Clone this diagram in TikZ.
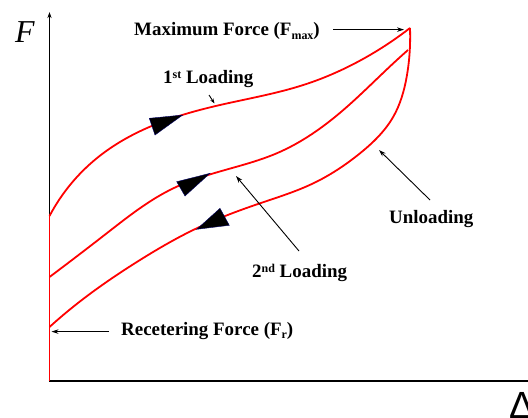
\documentclass[tikz,border=0pt]{standalone}
\usepackage{fontspec}
\setmainfont{Liberation Serif}
\newfontfamily\deltafont{Liberation Sans}
\usetikzlibrary{arrows.meta,hobby}

\newcommand{\supsmall}[1]{\raisebox{0.55ex}{\fontsize{12}{12}\selectfont #1}}
\newcommand{\subsmall}[1]{\raisebox{-0.45ex}{\fontsize{12}{12}\selectfont #1}}

\begin{document}
\begin{tikzpicture}[x=1bp,y=-1bp,
  lbl/.style={font=\fontsize{19}{22}\selectfont\bfseries, inner sep=0pt, anchor=base west},
  curve/.style={red, line width=1.8bp, line join=round, use Hobby shortcut},
  axis/.style={black, line width=1.6bp},
  pointer/.style={-{Stealth[length=7bp,width=4.5bp]}, line width=0.9bp},
  head/.style={fill=black, draw=black!60!blue, line width=0.4bp, line join=miter}]
\useasboundingbox (0,0) rectangle (528,417);

% axes
\coordinate (O) at (49.5,381);
\coordinate (Ytop) at (49.5,12);
\coordinate (Xend) at (540,381);
\draw[axis, -{Stealth[length=6bp,width=4bp]}] (O) -- (Ytop);
\draw[axis] (48.7,381) -- (Xend);
\node[inner sep=0pt, anchor=base west] (Flab) at (15,42) {\fontsize{32}{32}\selectfont\itshape F};
\node[inner sep=0pt, anchor=base west] (Dlab) at (509,418) {\fontsize{38}{38}\deltafont\selectfont Δ};

% key points of the hysteresis loop
\coordinate (Fmax) at (410,28);
\coordinate (A1) at (49.5,216);
\coordinate (A2) at (49.5,277);
\coordinate (Fr) at (49.5,327);
\coordinate (B2) at (408,50);

% vertical segment on the force axis
\draw[red, line width=1.8bp] (A1) -- (O);

% first loading
\draw[curve] (A1) .. (96.7,158.3) .. (150,126.7) .. (220,105)
  .. (303.3,85) .. (370,55) .. (Fmax);

% second loading
\draw[curve] (A2) .. (106.7,233.3) .. (173.3,188.3) .. (225,170)
  .. (276.7,153.3) .. (343.3,110) .. (393.3,63.3) .. (B2);

% unloading
\draw[curve] ([out angle=-88]Fmax) .. (406.7,76.7) .. (393.3,116.7)
  .. (360,153.3) .. (313.3,183.3) .. (260,203.3) .. (196.7,228.3)
  .. (140,260) .. (73.3,306.7) .. (Fr);

% direction markers
\fill[head] (149.3,118.3) -- (182.7,115) -- (155,135) -- cycle;
\fill[head] (176.7,181.7) -- (210,173.3) -- (185,196) -- cycle;
\fill[head] (220,208.3) -- (196.7,229.3) -- (229.3,225.3) -- cycle;

% labels
\node[lbl] (Lmax) at (134,35.5) {Maximum Force (F\subsmall{max})};
\node[lbl] (L1) at (163,83.5) {1\supsmall{st} Loading};
\node[lbl] (L2) at (252,277) {2\supsmall{nd} Loading};
\node[lbl] (Lun) at (389,223) {Unloading};
\node[lbl] (Lfr) at (121,335) {Recetering Force (F\subsmall{r})};

% label pointers
\coordinate (pMaxS) at (333,29.6);
\coordinate (pMaxE) at (404,29.6);
\coordinate (p1S) at (209,95);
\coordinate (p1E) at (214.5,103.5);
\coordinate (p2S) at (299,251);
\coordinate (p2E) at (236,176);
\coordinate (puS) at (430,200);
\coordinate (puE) at (379,150);
\coordinate (pfS) at (109,331.6);
\coordinate (pfE) at (51.5,331.6);
\draw[pointer] (pMaxS) -- (pMaxE);
\draw[pointer, -{Stealth[length=5bp,width=3.5bp]}] (p1S) -- (p1E);
\draw[pointer] (p2S) -- (p2E);
\draw[pointer] (puS) -- (puE);
\draw[pointer] (pfS) -- (pfE);
\end{tikzpicture}
\end{document}
